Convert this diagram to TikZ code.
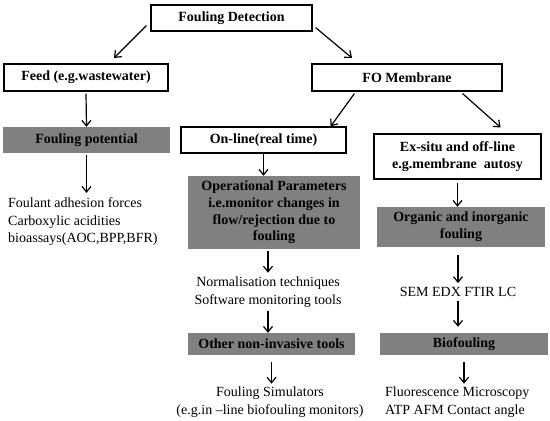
\documentclass[tikz,border=0pt]{standalone}
\usepackage{fontspec}
\setmainfont{Liberation Serif}
\usetikzlibrary{arrows.meta}

\tikzset{
	whitebox/.style={draw=\BOXLINE,line width=1.2pt,fill=white,inner sep=0pt,align=center,
		font=\fontsize{14}{16.7}\selectfont\bfseries},
	greybox/.style={fill=\BOXFILL,inner sep=0pt,align=center,
		font=\fontsize{14}{16.7}\selectfont\bfseries},
	plaintext/.style={inner sep=0pt,font=\fontsize{14}{17.5}\selectfont},
	arr/.style={-{Straight Barb[length=5.5pt,width=9pt]},line width=1.2pt,draw=\BOXLINE}
}

\begin{document}
\begin{tikzpicture}[x=1pt,y=-1pt]

\def\BOXFILL{gray}
\def\BOXLINE{black}
	\useasboundingbox (0,0) rectangle (550,421);

	% top level
	\node[whitebox,minimum width=161pt,minimum height=26pt] (det) at (231.5,18) {Fouling Detection};
	\node[whitebox,minimum width=164pt,minimum height=27pt] (feed) at (86,77.5) {Feed (e.g.wastewater)};
	\node[whitebox,minimum width=190pt,minimum height=27pt] (fom) at (407,77.5) {FO Membrane};

	% second level
	\node[greybox,minimum width=167pt,minimum height=26pt] (pot) at (86.5,140) {Fouling potential};
	\node[whitebox,minimum width=165pt,minimum height=26pt] (onl) at (263.5,140) {On-line(real time)};
	\node[whitebox,minimum width=167pt,minimum height=45pt] (exs) at (457.5,156.5) {Ex-situ and off-line\\e.g.membrane\ \ autosy};

	% grey boxes
	\node[greybox,minimum width=172pt,minimum height=73pt] (ops) at (274,212.5) {Operational Parameters\\i.e.monitor changes in\\flow/rejection due to\\fouling};
	\node[greybox,minimum width=168pt,minimum height=40pt] (org) at (461,227) {Organic and inorganic\\fouling};
	\node[greybox,minimum width=167pt,minimum height=22pt] (oth) at (271.5,344) {Other non-invasive tools};
	\node[greybox,minimum width=168pt,minimum height=22pt] (bio) at (464,344) {Biofouling};

	% plain texts
	\node[plaintext,anchor=west,align=left] (foul) at (8,222) {Foulant adhesion forces\\Carboxylic acidities\\bioassays(AOC,BPP,BFR)};
	\node[plaintext,align=center] (norm) at (268,292) {Normalisation techniques\\Software monitoring tools};
	\node[plaintext] (sem) at (458,292) {SEM EDX FTIR LC};
	\node[plaintext,align=center] (sim) at (270,402) {Fouling Simulators\\(e.g.in –line biofouling monitors)};
	\node[plaintext,anchor=west,align=left] (flu) at (385,402) {Fluorescence Microscopy\\ATP AFM Contact angle};

	% arrows
	\coordinate (feedtip) at (114,58);
	\coordinate (fomtip) at (352,58);
	\draw[arr] ([xshift=-4pt,yshift=6pt]det.south west) -- (feedtip);
	\draw[arr] ([xshift=3pt,yshift=4pt]det.south east) -- (fomtip);
	\draw[arr] ([xshift=43pt,yshift=-2pt]fom.south west) -- ([xshift=-16pt]onl.north east);
	\draw[arr] ([xshift=-40pt,yshift=-2pt]fom.south east) -- ([xshift=-41pt,yshift=6pt]exs.north east);

	\draw[arr] ([yshift=-2pt]feed.south) -- (pot.north);
	\draw[arr] ([yshift=-2pt]pot.south) -- ([yshift=5pt]pot.south |- foul.north);
	\draw[arr] (onl.south) -- (onl.south |- ops.north);
	\draw[arr] ([yshift=-2pt]ops.south -| norm.north) -- ([yshift=4pt]norm.north);
	\draw[arr] ([yshift=-4pt]norm.south) -- (norm.south |- oth.north);
	\draw[arr] ([yshift=-7pt]oth.south) -- ([yshift=3pt]oth.south |- sim.north);
	\draw[arr] ([yshift=-3pt]exs.south) -- (org.north -| exs.south);
	\draw[arr] ([yshift=-8pt]org.south -| sem.north) -- ([yshift=4pt]sem.north);
	\draw[arr] ([yshift=-4pt]sem.south) -- ([yshift=6pt]sem.south |- bio.north);
	\draw[arr] ([yshift=-7pt]bio.south) -- ([yshift=3pt]bio.south |- flu.north);

\end{tikzpicture}
\end{document}
